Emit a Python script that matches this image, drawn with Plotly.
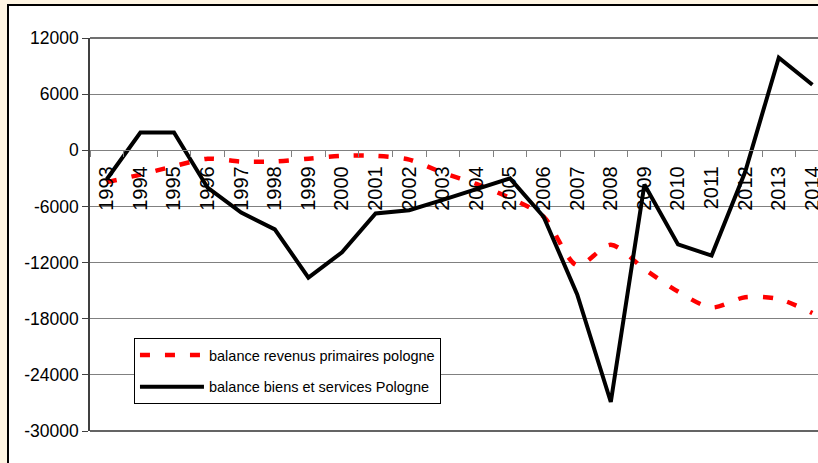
import plotly.graph_objects as go

years = [str(y) for y in range(1993, 2015)]
revenus_primaires = [-3400, -2600, -1700, -900, -1200, -1200, -900, -600, -600, -1000,
                     -2400, -3600, -5100, -7100, -12300, -10100, -12700, -15100,
                     -16800, -15700, -15900, -17400]
biens_services = [-3100, 1900, 1900, -4000, -6650, -8450, -13600, -10900, -6750, -6400,
                  -5300, -4200, -3000, -7100, -15400, -26900, -3650, -10060, -11250,
                  -2300, 9900, 7000]
names = ["balance revenus primaires pologne", "balance biens et services Pologne"]
y_tickvals = [-30000, -24000, -18000, -12000, -6000, 0, 6000, 12000]
y_ticktext = ["-30000", "-24000", "-18000", "-12000", "-6000", "0", "6000", "12000"]
y_min, y_max = -30000, 12000

FONT = "Liberation Sans, Arial, sans-serif"

fig = go.Figure()
fig.add_trace(go.Scatter(
    x=years, y=revenus_primaires, mode="lines", name=names[0],
    legendgroup="a",
    line=dict(color="#FF0000", width=4.5, dash="10px,15px", shape="spline", smoothing=0.8),
))
fig.add_trace(go.Scatter(
    x=years, y=biens_services, mode="lines", name=names[1],
    legendgroup="b",
    line=dict(color="#000000", width=4),
))

fig.update_layout(
    width=818, height=463,
    margin=dict(l=90, r=0, t=38, b=32, pad=0),
    paper_bgcolor="#FFF5E3",
    plot_bgcolor="rgba(0,0,0,0)",
    font=dict(family=FONT, color="#000000"),
    showlegend=True,
    legend=dict(
        x=0.0604, y=0.2366, xanchor="left", yanchor="top",
        bgcolor="#FFFFFF", bordercolor="#000000", borderwidth=1,
        font=dict(size=14.5, family=FONT, color="#000000"),
        itemwidth=64, tracegroupgap=10,
    ),
    xaxis=dict(
        type="category", categoryorder="array", categoryarray=years,
        range=[-0.5, -0.5 + 728 / 33.6],
        anchor="free", position=(0 - y_min) / (y_max - y_min),
        showgrid=False, zeroline=False,
        showline=True, linecolor="#808080", linewidth=1,
        ticks="outside", ticklen=6, tickcolor="#808080", tickwidth=1,
        tickson="boundaries", tickangle=-90, ticklabelstandoff=7,
        tickfont=dict(size=20, family=FONT, color="#000000"),
        automargin=False,
    ),
    yaxis=dict(
        range=[y_min, y_max], tickvals=y_tickvals, ticktext=y_ticktext,
        showgrid=True, gridcolor="#808080", gridwidth=1,
        zeroline=False,
        showline=True, linecolor="#404040", linewidth=1.5,
        ticks="outside", ticklen=6, tickcolor="#404040", tickwidth=1,
        tickfont=dict(size=17.5, family=FONT, color="#000000"),
        automargin=False,
    ),
    shapes=[
        dict(type="rect", xref="paper", yref="paper", layer="below",
             x0=(8 - 90) / 728, x1=1.1, y0=-0.3, y1=(431 - 5) / 393,
             fillcolor="#FFFFFF", line=dict(color="#000000", width=2)),
        dict(type="line", xref="paper", yref="paper", x0=0, x1=1, y0=1, y1=1,
             line=dict(color="#404040", width=1.5)),
        dict(type="line", xref="paper", yref="paper", x0=0, x1=1, y0=0, y1=0,
             line=dict(color="#303030", width=1.5)),
    ],
)

fig.write_html(
    "out.html",
    config={"displayModeBar": False},
    post_script="document.body.style.margin='0';document.body.style.overflow='hidden';",
)
